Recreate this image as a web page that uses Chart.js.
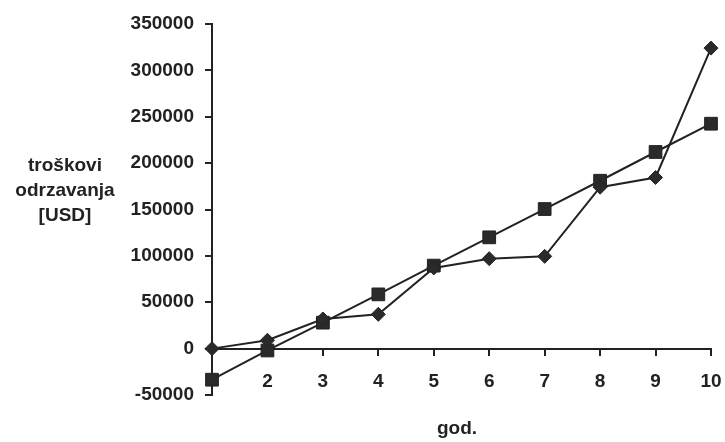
<!DOCTYPE html>
<html>
<head>
<meta charset="utf-8">
<script src="https://cdn.jsdelivr.net/npm/chart.js@4/dist/chart.umd.min.js"></script>
<style>
html,body{margin:0;padding:0;background:#ffffff;}
#wrap{width:725px;height:442px;position:relative;}
</style>
</head>
<body>
<div id="wrap"><canvas id="c" width="725" height="442"></canvas></div>
<script>
const years = [1, 2, 3, 4, 5, 6, 7, 8, 9, 10];
const seriesDiamond = [0, 9000, 32000, 37000, 87000, 97000, 99500, 174000, 184500, 324000];
const seriesSquare = [-33500, -2000, 28000, 58500, 89500, 120000, 150500, 181000, 212000, 242500];
const yTicks = [-50000, 0, 50000, 100000, 150000, 200000, 250000, 300000, 350000];
const yTitleLines = ['troškovi', 'odrzavanja', '[USD]'];
const xTitle = 'god.';

const INK = '#222222';
const FONT = 'Liberation Sans, Arial, sans-serif';

const titlesPlugin = {
  id: 'titles',
  afterDraw(chart) {
    const ctx = chart.ctx;
    ctx.save();
    ctx.fillStyle = INK;
    ctx.font = 'bold 19px ' + FONT;
    ctx.textAlign = 'center';
    ctx.textBaseline = 'middle';
    const ys = [166, 191, 216];
    yTitleLines.forEach((t, i) => ctx.fillText(t, 65, ys[i]));
    ctx.fillText(xTitle, 457, 429);
    ctx.restore();
  }
};

new Chart(document.getElementById('c'), {
  type: 'line',
  data: {
    datasets: [
      {
        label: 'A',
        data: years.map((x, i) => ({x: x, y: seriesDiamond[i]})),
        borderColor: INK,
        backgroundColor: '#2a2a2a',
        borderWidth: 2,
        pointStyle: 'rectRot',
        pointRadius: 7,
        pointBorderWidth: 1,
        pointBorderColor: INK,
        tension: 0,
        clip: false
      },
      {
        label: 'B',
        data: years.map((x, i) => ({x: x, y: seriesSquare[i]})),
        borderColor: INK,
        backgroundColor: '#2a2a2a',
        borderWidth: 2,
        pointStyle: 'rect',
        pointRadius: 9,
        pointBorderWidth: 1,
        pointBorderColor: INK,
        tension: 0,
        clip: false
      }
    ]
  },
  options: {
    responsive: false,
    animation: false,
    devicePixelRatio: 1,
    layout: {padding: {left: 0, right: 14, top: 24, bottom: 47}},
    plugins: {legend: {display: false}, tooltip: {enabled: false}},
    scales: {
      x: {
        type: 'linear',
        position: {y: 0},
        min: 1,
        max: 10,
        offset: false,
        afterBuildTicks(scale) { scale.ticks = years.map(v => ({value: v})); },
        afterFit(scale) { scale.paddingRight = 0; scale.paddingLeft = 0; },
        ticks: {
          color: INK,
          font: {family: FONT, size: 19, weight: 'bold'},
          padding: 16,
          maxRotation: 0,
          autoSkip: false,
          callback: (v) => (v === 1 ? '' : String(v))
        },
        grid: {drawOnChartArea: false, drawTicks: true, tickLength: 6, color: INK, lineWidth: 2},
        border: {display: true, color: INK, width: 2}
      },
      y: {
        type: 'linear',
        position: 'left',
        min: -50000,
        max: 350000,
        afterBuildTicks(scale) { scale.ticks = yTicks.map(v => ({value: v})); },
        afterFit(scale) { scale.width = 212; },
        ticks: {
          color: INK,
          font: {family: FONT, size: 19, weight: 'bold'},
          padding: 11,
          callback: (v) => String(v)
        },
        grid: {drawOnChartArea: false, drawTicks: true, tickLength: 7, color: INK, lineWidth: 2},
        border: {display: true, color: INK, width: 2}
      }
    }
  },
  plugins: [titlesPlugin]
});
</script>
</body>
</html>
